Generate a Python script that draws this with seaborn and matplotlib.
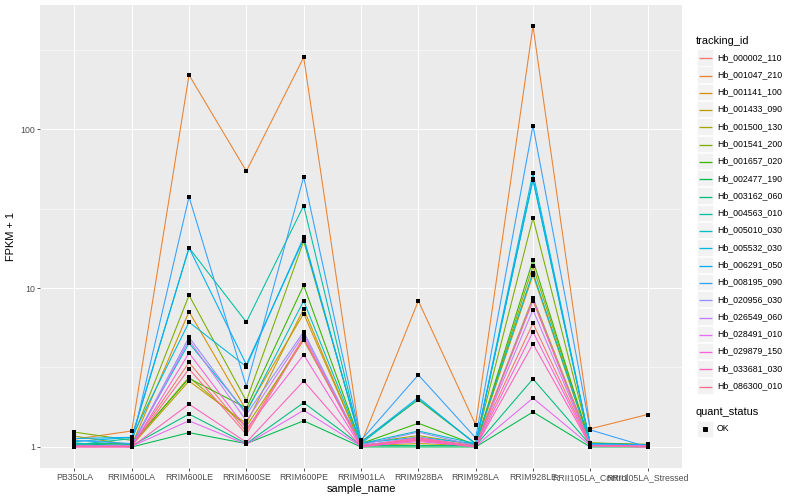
import numpy as np
import pandas as pd
import matplotlib
matplotlib.use("Agg")
import matplotlib.pyplot as plt
from matplotlib.patches import Rectangle
from matplotlib.lines import Line2D
import seaborn as sns

samples = ["PB350LA", "RRIM600LA", "RRIM600LE", "RRIM600SE", "RRIM600PE", "RRIM901LA",
           "RRIM928BA", "RRIM928LA", "RRIM928LE", "RRII105LA_Control", "RRII105LA_Stressed"]

tracking_ids = ["Hb_000002_110", "Hb_001047_210", "Hb_001141_100", "Hb_001433_090",
                "Hb_001500_130", "Hb_001541_200", "Hb_001657_020", "Hb_002477_190",
                "Hb_003162_060", "Hb_004563_010", "Hb_005010_030", "Hb_005532_030",
                "Hb_006291_050", "Hb_008195_090", "Hb_020956_030", "Hb_026549_060",
                "Hb_028491_010", "Hb_029879_150", "Hb_033681_030", "Hb_086300_010"]

Hb_000002_110 = [1.02, 1.02, 3.4, 1.25, 4.9, 1.02, 1.12, 1.02, 6.0, 1.03, 1.02]
Hb_001047_210 = [1.12, 1.26, 219, 54.4, 283, 1.05, 8.3, 1.38, 445, 1.30, 1.60]
Hb_001141_100 = [1.02, 1.03, 7.1, 1.70, 6.9, 1.03, 1.10, 1.02, 12.1, 1.04, 1.02]
Hb_001433_090 = [1.03, 1.02, 2.6, 1.40, 7.4, 1.02, 1.05, 1.02, 8.7, 1.05, 1.03]
Hb_001500_130 = [1.17, 1.03, 2.75, 1.35, 4.7, 1.05, 1.18, 1.03, 13.7, 1.06, 1.03]
Hb_001541_200 = [1.24, 1.10, 9.0, 1.95, 19.7, 1.08, 1.98, 1.05, 27.6, 1.06, 1.04]
Hb_001657_020 = [1.05, 1.05, 2.7, 1.76, 10.4, 1.05, 1.41, 1.03, 15.0, 1.05, 1.03]
Hb_002477_190 = [1.06, 1.00, 1.23, 1.05, 1.46, 1.00, 1.00, 1.00, 1.66, 1.00, 1.00]
Hb_003162_060 = [1.03, 1.02, 1.61, 1.05, 1.9, 1.02, 1.02, 1.02, 2.68, 1.03, 1.02]
Hb_004563_010 = [1.03, 1.13, 17.9, 6.1, 33, 1.05, 2.0, 1.05, 48, 1.04, 1.02]
Hb_005010_030 = [1.05, 1.04, 4.5, 1.65, 8.3, 1.05, 1.26, 1.05, 12.5, 1.05, 1.03]
Hb_005532_030 = [1.08, 1.15, 6.1, 3.2, 20.9, 1.06, 1.15, 1.05, 53, 1.04, 1.02]
Hb_006291_050 = [1.13, 1.15, 17.9, 3.3, 20.3, 1.07, 2.05, 1.04, 48.5, 1.05, 1.03]
Hb_008195_090 = [1.10, 1.05, 37.5, 2.4, 50, 1.10, 2.84, 1.14, 105, 1.28, 1.00]
Hb_020956_030 = [1.02, 1.02, 4.9, 1.6, 5.3, 1.03, 1.24, 1.02, 8.5, 1.03, 1.02]
Hb_026549_060 = [1.01, 1.01, 4.7, 1.46, 5.1, 1.02, 1.15, 1.01, 7.3, 1.02, 1.01]
Hb_028491_010 = [1.01, 1.01, 1.46, 1.04, 1.7, 1.01, 1.08, 1.01, 2.03, 1.02, 1.01]
Hb_029879_150 = [1.00, 1.00, 3.9, 1.3, 3.8, 1.00, 1.12, 1.00, 5.3, 1.02, 1.00]
Hb_033681_030 = [1.00, 1.00, 1.86, 1.07, 2.6, 1.00, 1.10, 1.00, 4.45, 1.02, 1.00]
Hb_086300_010 = [1.01, 1.01, 3.1, 1.2, 4.8, 1.01, 1.14, 1.01, 8.3, 1.02, 1.01]

series = [Hb_000002_110, Hb_001047_210, Hb_001141_100, Hb_001433_090, Hb_001500_130,
          Hb_001541_200, Hb_001657_020, Hb_002477_190, Hb_003162_060, Hb_004563_010,
          Hb_005010_030, Hb_005532_030, Hb_006291_050, Hb_008195_090, Hb_020956_030,
          Hb_026549_060, Hb_028491_010, Hb_029879_150, Hb_033681_030, Hb_086300_010]

colors = ["#F8766D", "#EA8331", "#D89000", "#C09B00", "#A3A500", "#7CAE00", "#39B600",
          "#00BB4E", "#00BF7D", "#00C1A3", "#00BFC4", "#00BAE0", "#00B0F6", "#35A2FF",
          "#9590FF", "#C77CFF", "#E76BF3", "#FA62DB", "#FF62BC", "#FF6C91"]

quant_status = "OK"

rows = []
for tid, vals in zip(tracking_ids, series):
    for s, v in zip(samples, vals):
        rows.append({"tracking_id": tid, "sample_name": s, "fpkm1": v, "quant_status": quant_status})
df = pd.DataFrame(rows)
df["sample_name"] = pd.Categorical(df["sample_name"], categories=samples, ordered=True)

sns.set_style("darkgrid", {"axes.facecolor": "#EBEBEB", "grid.color": "white"})
plt.rcParams["font.family"] = ["Liberation Sans", "DejaVu Sans"]

W, H = 800, 500
DPI = 72
fig = plt.figure(figsize=(W / DPI, H / DPI), dpi=DPI)
fig.patch.set_facecolor("white")
left, right, top, bottom = 40, 682, 5, 468
ax = fig.add_axes([left / W, 1 - bottom / H, (right - left) / W, (bottom - top) / H])

palette = dict(zip(tracking_ids, colors))
sns.lineplot(data=df, x="sample_name", y="fpkm1", hue="tracking_id", hue_order=tracking_ids,
             palette=palette, estimator=None, sort=False, legend=False, linewidth=1.07, ax=ax)
sns.scatterplot(data=df, x="sample_name", y="fpkm1", color="black", marker="s", s=12,
                linewidth=0, legend=False, ax=ax, zorder=5)

ax.set_yscale("log")
allv = np.log10(np.concatenate([np.asarray(v, float) for v in series]))
lo, hi = allv.min(), allv.max()
pad = (hi - lo) * 0.05
ax.set_ylim(10 ** (lo - pad), 10 ** (hi + pad))
ax.set_xlim(-0.6, len(samples) - 1 + 0.6)

ax.set_yticks([1, 10, 100])
ax.set_yticklabels(["1", "10", "100"])
ax.set_yticks([10 ** 0.5, 10 ** 1.5, 10 ** 2.5], minor=True)
ax.set_xticks(range(len(samples)))
ax.set_xticklabels(samples)
ax.grid(True, which="major", color="white", linewidth=1.07)
ax.grid(True, which="minor", axis="y", color="white", linewidth=0.53)
ax.grid(False, which="minor", axis="x")
ax.tick_params(axis="both", which="major", length=2.75, width=0.8, color="#333333",
               labelsize=8.8, labelcolor="#4D4D4D", pad=2.2, direction="out")
ax.tick_params(axis="both", which="minor", length=0)
ax.tick_params(axis="x", bottom=True)
ax.tick_params(axis="y", left=True)
for sp in ax.spines.values():
    sp.set_visible(False)
ax.set_axisbelow(True)
ax.set_xlabel("sample_name", fontsize=11, color="black", labelpad=2.5)
ax.set_ylabel("FPKM + 1", fontsize=11, color="black", labelpad=4)

# legend drawn in pixel coordinates on an overlay axes
lax = fig.add_axes([0, 0, 1, 1], facecolor="none")
lax.set_xlim(0, W)
lax.set_ylim(H, 0)
lax.axis("off")
lax.text(696, 41, "tracking_id", fontsize=11, va="center", ha="left", color="black")
y0, dy = 57.3, 17.28
for i, (tid, c) in enumerate(zip(tracking_ids, colors)):
    yc = y0 + i * dy
    lax.add_patch(Rectangle((697, yc - 8.1), 16.3, 16.3, facecolor="#F2F2F2", edgecolor="white", linewidth=0.6))
    yl = round(yc) + 0.5
    lax.add_line(Line2D([698.5, 711.5], [yl, yl], color=c, linewidth=1.3, solid_capstyle="butt"))
    lax.text(717, yc, tid, fontsize=8.8, va="center", ha="left", color="black")
lax.text(696, 412, "quant_status", fontsize=11, va="center", ha="left", color="black")
lax.add_patch(Rectangle((697, 420.5), 16.3, 16.3, facecolor="#F2F2F2", edgecolor="white", linewidth=0.6))
lax.add_line(Line2D([705.2], [428.6], color="black", marker="s", markersize=3.2, linewidth=0))
lax.text(717, 428.6, "OK", fontsize=8.8, va="center", ha="left", color="black")

fig.savefig("out.png", dpi=DPI, facecolor="white")
